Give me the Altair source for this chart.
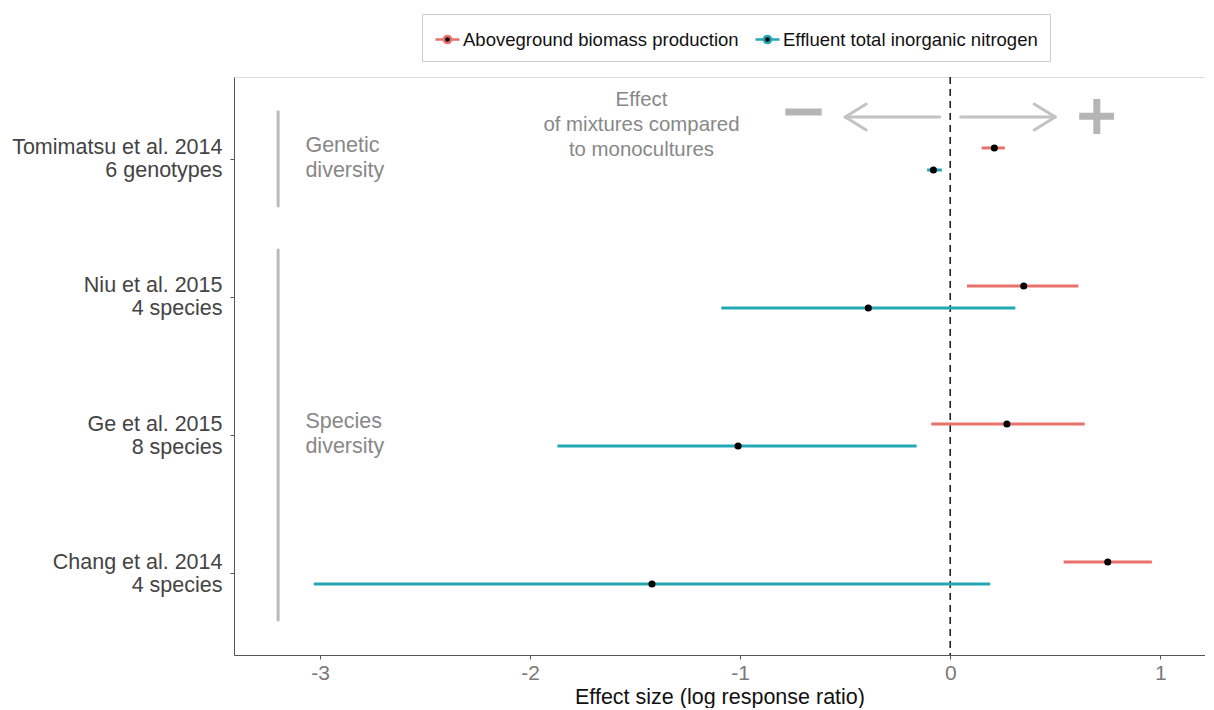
import altair as alt
import pandas as pd

# ---- data ----
studies = ["Tomimatsu et al. 2014", "Niu et al. 2015", "Ge et al. 2015", "Chang et al. 2014"]
subtitles = ["6 genotypes", "4 species", "8 species", "4 species"]
rows = [1, 2, 3, 4]

series = ["Aboveground biomass production", "Effluent total inorganic nitrogen"]
biomass_est = [0.21, 0.35, 0.27, 0.75]
biomass_lo = [0.15, 0.08, -0.09, 0.54]
biomass_hi = [0.26, 0.61, 0.64, 0.96]
nitrogen_est = [-0.08, -0.39, -1.01, -1.42]
nitrogen_lo = [-0.11, -1.09, -1.87, -3.03]
nitrogen_hi = [-0.04, 0.31, -0.16, 0.19]
dodge = [-0.08, 0.08]

x_ticks = [-3, -2, -1, 0, 1]
colors = ["#E8716B", "#22A8B4"]

recs = []
for i, r in enumerate(rows):
    recs.append(dict(series=series[0], y=r + dodge[0], est=biomass_est[i], lo=biomass_lo[i], hi=biomass_hi[i]))
    recs.append(dict(series=series[1], y=r + dodge[1], est=nitrogen_est[i], lo=nitrogen_lo[i], hi=nitrogen_hi[i]))
df = pd.DataFrame(recs)

# annotations (data units)
bracket_x = [-3.2, -3.2]
bracket_y1 = [0.65, 1.65]
bracket_y2 = [1.35, 4.35]
group_text = [["Genetic", "diversity"], ["Species", "diversity"]]
group_text_x = [-3.07, -3.07]
group_text_y = [1.0, 3.0]
effect_text = [["Effect", "of mixtures compared", "to monocultures"]]
effect_x = [-1.47]
effect_y = [0.754]

# arrow segments: x, y, x2, y2
arrow_x = [-0.50, -0.50, -0.50, 0.05, 0.50, 0.50]
arrow_y = [0.696, 0.696, 0.696, 0.696, 0.696, 0.696]
arrow_x2 = [-0.05, -0.40, -0.40, 0.50, 0.40, 0.40]
arrow_y2 = [0.696, 0.602, 0.790, 0.696, 0.602, 0.790]
# signs: minus and plus
sign_x = [-0.785, 0.614, 0.698]
sign_y = [0.66, 0.69, 0.565]
sign_x2 = [-0.612, 0.780, 0.698]
sign_y2 = [0.66, 0.69, 0.819]

label_map = {r: [s, sub] for r, s, sub in zip(rows, studies, subtitles)}
label_expr = " : ".join(
    f"datum.value == {r} ? ['{label_map[r][0]}', '{label_map[r][1]}']" for r in rows
) + " : ''"

FONT = "Liberation Sans"

xscale = alt.Scale(domain=[-3.41, 1.213], nice=False, zero=False)
yscale = alt.Scale(domain=[0.406, 4.594], nice=False, zero=False, reverse=True)

base = alt.Chart(df)

bars = base.mark_rule(strokeWidth=3).encode(
    x=alt.X("lo:Q", scale=xscale,
            axis=alt.Axis(values=x_ticks, title="Effect size (log response ratio)",
                          labelExpr="'' + datum.value",
                          grid=False, labelFontSize=21, labelColor="#7A7A7A",
                          titleFontSize=21.5, titleColor="#111111", titleFontWeight="normal",
                          tickColor="#555555", tickSize=4, domainColor="#555555",
                          labelPadding=3, titlePadding=3, labelFont=FONT, titleFont=FONT)),
    x2="hi:Q",
    y=alt.Y("y:Q", scale=yscale,
            axis=alt.Axis(values=rows, title=None, grid=False, labelExpr=label_expr,
                          labelFontSize=21.5, labelColor="#444444", labelLineHeight=23,
                          labelOffset=-11,
                          tickColor="#555555", tickSize=4, domainColor="#555555",
                          labelPadding=8, labelFont=FONT, labelLimit=0)),
    color=alt.Color("series:N", scale=alt.Scale(domain=series, range=colors),
                    legend=alt.Legend(
                        title=None, orient="none", direction="horizontal",
                        legendX=188, legendY=-63,
                        symbolType="M-1,0L-0.3,0M0.3,0L1,0M-0.3,0A0.3,0.3,0,1,1,0.3,0A0.3,0.3,0,1,1,-0.3,0Z",
                        symbolSize=576, symbolStrokeWidth=2.5, symbolFillColor="black",
                        labelFontSize=18.5, labelColor="#111111", labelFont=FONT, labelLimit=0,
                        strokeColor="#cccccc", padding=12, columnPadding=11,
                        labelOffset=2, symbolOffset=0)),
)

pts = base.mark_circle(size=50, color="black", opacity=1).encode(
    x=alt.X("est:Q", scale=xscale), y=alt.Y("y:Q", scale=yscale)
)

zero_df = pd.DataFrame({"x": [0]})
zero = alt.Chart(zero_df).mark_rule(color="#222222", strokeDash=[7, 5], strokeWidth=1.6).encode(x="x:Q")

brk_df = pd.DataFrame({"x": bracket_x, "y": bracket_y1, "y2": bracket_y2})
brk = alt.Chart(brk_df).mark_rule(color="#BBBBBB", strokeWidth=3).encode(
    x=alt.X("x:Q", scale=xscale), y=alt.Y("y:Q", scale=yscale), y2="y2:Q")

gt_df = pd.DataFrame({"x": group_text_x, "y": group_text_y, "t": group_text})
gtxt = alt.Chart(gt_df).mark_text(align="left", baseline="middle", fontSize=21.5, color="#888888",
                                  lineHeight=25, font=FONT, dy=-13).encode(
    x=alt.X("x:Q", scale=xscale), y=alt.Y("y:Q", scale=yscale), text="t")

ef_df = pd.DataFrame({"x": effect_x, "y": effect_y, "t": effect_text})
etxt = alt.Chart(ef_df).mark_text(align="center", baseline="middle", fontSize=20.4, color="#888888",
                                  lineHeight=25, font=FONT, dy=-25).encode(
    x=alt.X("x:Q", scale=xscale), y=alt.Y("y:Q", scale=yscale), text="t")

ar_df = pd.DataFrame({"x": arrow_x, "y": arrow_y, "x2": arrow_x2, "y2": arrow_y2})
arrows = alt.Chart(ar_df).mark_rule(color="#C2C2C2", strokeWidth=3, strokeCap="round").encode(
    x=alt.X("x:Q", scale=xscale), y=alt.Y("y:Q", scale=yscale), x2="x2:Q", y2="y2:Q")

sg_df = pd.DataFrame({"x": sign_x, "y": sign_y, "x2": sign_x2, "y2": sign_y2})
signs = alt.Chart(sg_df).mark_rule(color="#B5B5B5", strokeWidth=7).encode(
    x=alt.X("x:Q", scale=xscale), y=alt.Y("y:Q", scale=yscale), x2="x2:Q", y2="y2:Q")

chart = alt.layer(brk, gtxt, etxt, arrows, signs, zero, bars, pts).properties(
    width=971, height=578, padding={"left": 3, "top": 5, "right": 0, "bottom": 0}
).configure_view(stroke="#888888", strokeWidth=1).configure(background="white")

chart.save("out.html", embed_options={"renderer": "svg", "actions": False})
